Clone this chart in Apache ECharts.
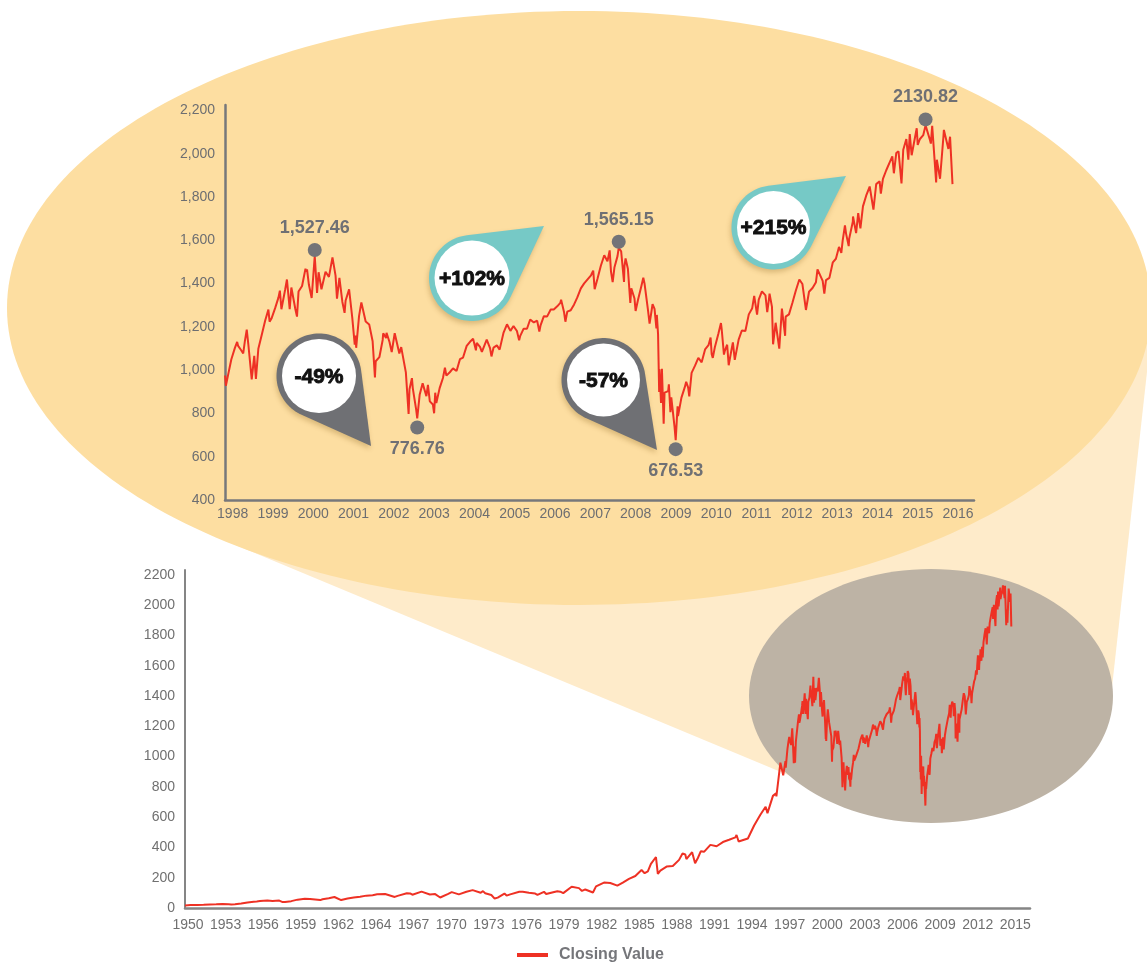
<!DOCTYPE html>
<html><head><meta charset="utf-8">
<script src="https://cdn.jsdelivr.net/npm/echarts@6/dist/echarts.min.js"></script>
<style>html,body{margin:0;padding:0;background:#fff}#c{width:1147px;height:964px}</style>
</head><body><div id="c"></div>
<script>
// ---------- DATA ----------
// S&P 500 closing values, 1998-2016 (zoomed chart)
const topDates = [
'1998-01-02','1998-01-09','1998-01-30','1998-02-27','1998-03-31','1998-04-21','1998-04-30','1998-05-29','1998-06-15','1998-06-30','1998-07-17','1998-07-31','1998-08-31','1998-09-23','1998-10-08','1998-10-30','1998-11-30','1998-12-31',
'1999-01-29','1999-02-09','1999-02-26','1999-03-31','1999-04-30','1999-05-13','1999-05-27','1999-06-30','1999-07-16','1999-08-10','1999-08-25','1999-09-30','1999-10-15','1999-10-29','1999-11-30','1999-12-31',
'2000-01-03','2000-01-14','2000-01-31','2000-02-25','2000-03-24','2000-04-14','2000-04-28','2000-05-24','2000-06-30','2000-07-31','2000-09-01','2000-09-29','2000-10-12','2000-11-03','2000-11-30','2000-12-20','2000-12-29',
'2001-01-30','2001-02-28','2001-03-22','2001-03-30','2001-04-04','2001-04-30','2001-05-21','2001-06-29','2001-07-31','2001-08-31','2001-09-21','2001-09-28','2001-10-31','2001-11-30','2001-12-05','2001-12-31',
'2002-01-04','2002-01-31','2002-02-20','2002-03-19','2002-04-30','2002-05-17','2002-05-31','2002-06-28','2002-07-23','2002-07-31','2002-08-22','2002-08-30','2002-09-30','2002-10-09','2002-10-31','2002-11-27','2002-12-31',
'2003-01-14','2003-01-31','2003-02-28','2003-03-11','2003-03-21','2003-03-31','2003-04-30','2003-05-30','2003-06-17','2003-06-30','2003-07-31','2003-08-29','2003-09-30','2003-10-31','2003-11-28','2003-12-31',
'2004-01-30','2004-02-27','2004-03-24','2004-03-31','2004-04-30','2004-05-17','2004-06-30','2004-07-30','2004-08-12','2004-08-31','2004-09-30','2004-10-25','2004-11-30','2004-12-31',
'2005-01-31','2005-02-28','2005-03-31','2005-04-20','2005-04-29','2005-05-31','2005-06-30','2005-07-29','2005-08-31','2005-09-30','2005-10-20','2005-10-31','2005-11-30','2005-12-30',
'2006-01-31','2006-02-28','2006-03-31','2006-04-28','2006-05-05','2006-05-31','2006-06-13','2006-06-30','2006-07-31','2006-08-31','2006-09-29','2006-10-31','2006-11-30','2006-12-29',
'2007-01-31','2007-02-20','2007-03-05','2007-03-30','2007-04-30','2007-05-31','2007-06-29','2007-07-19','2007-07-31','2007-08-15','2007-08-31','2007-09-28','2007-10-09','2007-10-31','2007-11-26','2007-11-30','2007-12-10','2007-12-31',
'2008-01-22','2008-01-31','2008-02-29','2008-03-10','2008-03-31','2008-04-30','2008-05-19','2008-05-30','2008-06-30','2008-07-15','2008-07-31','2008-08-11','2008-08-29','2008-09-15','2008-09-19','2008-09-30','2008-10-10','2008-10-13','2008-10-27','2008-11-04','2008-11-20','2008-11-28','2008-12-31',
'2009-01-06','2009-01-20','2009-01-28','2009-02-27','2009-03-09','2009-03-26','2009-03-30','2009-04-30','2009-05-29','2009-06-12','2009-06-30','2009-07-10','2009-07-31','2009-08-31','2009-09-30','2009-10-30','2009-11-30','2009-12-31',
'2010-01-19','2010-01-29','2010-02-08','2010-02-26','2010-03-31','2010-04-23','2010-04-30','2010-05-20','2010-05-28','2010-06-18','2010-07-02','2010-07-30','2010-08-09','2010-08-26','2010-09-30','2010-10-29','2010-11-30','2010-12-31',
'2011-01-31','2011-02-18','2011-03-16','2011-03-31','2011-04-29','2011-05-31','2011-06-16','2011-06-30','2011-07-07','2011-07-29','2011-08-08','2011-08-31','2011-09-16','2011-10-03','2011-10-27','2011-11-25','2011-11-30','2011-12-30',
'2012-01-31','2012-02-29','2012-04-02','2012-04-30','2012-06-01','2012-06-29','2012-07-31','2012-08-31','2012-09-14','2012-10-31','2012-11-15','2012-11-30','2012-12-31',
'2013-01-31','2013-02-28','2013-03-28','2013-04-18','2013-04-30','2013-05-21','2013-05-31','2013-06-24','2013-06-28','2013-07-31','2013-08-02','2013-08-30','2013-09-18','2013-09-30','2013-10-08','2013-10-31','2013-11-29','2013-12-31',
'2014-01-15','2014-02-03','2014-02-28','2014-03-31','2014-04-11','2014-04-30','2014-05-30','2014-06-30','2014-07-24','2014-08-07','2014-08-29','2014-09-18','2014-10-15','2014-10-31','2014-11-28','2014-12-16','2014-12-29',
'2015-01-15','2015-01-30','2015-03-02','2015-03-11','2015-03-31','2015-04-30','2015-05-21','2015-06-30','2015-07-08','2015-07-20','2015-08-25','2015-08-31','2015-09-29','2015-10-30','2015-11-03','2015-12-14','2015-12-29','2016-01-20'
];
const topValues = [
975.04,927.69,980.28,1049.34,1101.75,1130.54,1111.75,1090.82,1077.01,1133.84,1186.75,1120.67,957.28,1066.09,959.44,1098.67,1163.63,1229.23,
1279.64,1223.55,1238.33,1286.37,1335.18,1367.56,1281.41,1372.71,1418.78,1281.43,1381.79,1282.71,1247.41,1362.93,1388.91,1469.25,
1455.22,1465.15,1394.46,1333.36,1527.46,1356.56,1452.43,1373.86,1454.60,1430.83,1520.77,1436.51,1329.78,1426.69,1314.95,1264.74,1320.28,
1373.73,1239.94,1117.58,1160.33,1103.25,1249.46,1312.83,1224.42,1211.23,1133.58,965.80,1040.94,1059.78,1139.45,1170.35,1148.08,
1172.51,1130.20,1083.34,1170.29,1076.92,1106.59,1067.14,989.82,797.70,911.62,962.70,916.07,815.28,776.76,885.76,938.87,879.82,
931.66,855.70,841.15,800.73,895.79,848.18,916.92,963.59,1011.66,974.50,990.31,1008.01,995.97,1050.71,1058.20,1111.92,
1131.13,1144.94,1091.33,1126.21,1107.30,1084.10,1140.84,1101.72,1063.23,1104.24,1114.58,1094.81,1173.82,1211.92,
1181.27,1203.60,1180.59,1137.50,1156.85,1191.50,1191.33,1234.18,1220.33,1228.81,1177.80,1207.01,1249.48,1248.29,
1280.08,1280.66,1294.83,1310.61,1325.76,1270.09,1223.69,1270.20,1276.66,1303.82,1335.85,1377.94,1400.63,1418.30,
1438.24,1459.68,1374.12,1420.86,1482.37,1530.62,1503.35,1553.08,1455.27,1406.70,1473.99,1526.75,1565.15,1549.38,1407.22,1481.14,1515.96,1468.36,
1310.50,1378.55,1330.63,1273.37,1322.70,1385.59,1426.63,1400.38,1280.00,1214.91,1267.38,1305.32,1282.83,1192.70,1255.08,1166.36,899.22,1003.35,848.92,1005.75,752.44,896.24,903.25,
934.70,805.22,874.09,735.09,676.53,832.86,787.53,872.81,919.14,946.21,919.32,879.13,987.48,1020.62,1057.08,1036.19,1095.63,1115.10,
1150.23,1073.87,1056.74,1104.49,1169.43,1217.28,1186.69,1071.59,1089.41,1117.51,1022.58,1101.60,1127.79,1047.22,1141.20,1183.26,1180.55,1257.64,
1286.12,1343.01,1256.88,1325.83,1363.61,1345.20,1267.64,1320.64,1353.22,1292.28,1119.46,1218.89,1216.01,1099.23,1284.59,1158.67,1246.96,1257.60,
1312.41,1365.68,1419.04,1397.91,1278.04,1362.16,1379.32,1406.58,1465.77,1412.16,1353.33,1416.18,1426.19,
1498.11,1514.68,1569.19,1541.61,1597.57,1669.16,1630.74,1573.09,1606.28,1685.73,1709.67,1632.97,1725.52,1681.55,1655.45,1756.54,1805.81,1848.36,
1848.38,1741.89,1859.45,1872.34,1815.69,1883.95,1923.57,1960.23,1987.98,1909.57,2003.37,2011.36,1862.49,2018.05,2067.56,1972.74,2090.57,
1992.67,1994.99,2117.39,2040.24,2067.89,2085.51,2130.82,2063.11,2046.68,2128.28,1867.61,1972.18,1884.09,2079.36,2109.79,2021.94,2078.36,1859.33
];
// S&P 500 closing values, 1950-1997 (long history, bottom chart)
const longDates = [
'1950-01-03','1950-06-12','1950-07-13','1950-12-29','1951-06-29','1951-12-31','1952-06-30','1952-12-31','1953-06-30','1953-09-14','1953-12-31',
'1954-06-30','1954-12-31','1955-06-30','1955-09-26','1955-12-30','1956-08-02','1956-12-31','1957-07-15','1957-10-22','1957-12-31',
'1958-06-30','1958-12-31','1959-07-31','1959-12-31','1960-10-25','1960-12-30','1961-06-30','1961-12-12','1962-06-26','1962-12-31',
'1963-06-28','1963-12-31','1964-06-30','1964-12-31','1965-05-13','1965-06-28','1965-12-31','1966-02-09','1966-10-07','1966-12-30',
'1967-09-25','1967-12-29','1968-03-05','1968-11-29','1968-12-31','1969-07-29','1969-12-31','1970-05-26','1970-12-31',
'1971-04-28','1971-11-23','1971-12-31','1972-06-30','1972-12-29','1973-01-11','1973-08-22','1973-10-26','1973-12-31',
'1974-06-28','1974-10-03','1974-12-31','1975-07-15','1975-09-16','1975-12-31','1976-09-21','1976-12-31','1977-06-30','1977-12-30',
'1978-03-06','1978-09-12','1978-11-14','1978-12-29','1979-10-05','1979-11-07','1979-12-31','1980-02-13','1980-03-27','1980-11-28','1980-12-31',
'1981-06-30','1981-09-25','1981-12-31','1982-08-12','1982-11-09','1982-12-31','1983-06-30','1983-12-30','1984-07-24','1984-12-31',
'1985-06-28','1985-12-31','1986-06-30','1986-09-29','1986-12-31','1987-03-31','1987-08-25','1987-10-19','1987-12-04','1987-12-31',
'1988-06-30','1988-12-30','1989-06-30','1989-10-09','1989-12-29','1990-01-30','1990-07-16','1990-10-11','1990-12-31',
'1991-03-28','1991-06-28','1991-12-31','1992-06-30','1992-12-31','1993-06-30','1993-12-31','1994-02-02','1994-04-04','1994-12-30',
'1995-06-30','1995-12-29','1996-05-31','1996-07-24','1996-12-31','1997-03-31','1997-04-11','1997-08-06','1997-10-27','1997-12-31'
];
const longValues = [
16.66,19.40,16.69,20.41,20.96,23.77,24.96,26.57,24.14,22.71,24.81,
29.21,35.98,41.03,42.61,45.48,49.74,46.67,49.13,38.98,39.99,
45.24,55.21,60.51,59.89,52.30,58.11,64.64,72.64,52.32,63.10,
69.37,75.02,81.69,84.75,90.27,81.60,92.43,94.06,73.20,80.33,
97.59,96.47,87.72,108.37,103.86,89.48,92.06,69.29,92.15,
104.77,90.16,102.09,107.14,118.05,120.24,100.53,111.38,97.55,
86.00,62.28,68.56,95.61,82.09,90.19,107.83,107.46,100.48,95.10,
86.90,106.99,92.49,96.11,111.27,99.87,107.94,118.44,98.22,140.52,135.76,
131.21,112.77,122.55,102.42,143.02,140.64,168.11,164.93,147.82,167.24,
191.85,211.28,250.84,229.91,242.17,291.70,336.77,224.84,223.92,247.08,
273.50,277.72,317.98,359.80,353.40,322.98,368.95,295.46,330.22,
375.22,371.16,417.09,408.14,435.71,450.53,466.45,482.00,438.92,459.27,
544.75,615.93,669.12,626.65,740.74,757.12,737.65,960.32,876.99,970.43
];
// Highlighted peaks and troughs
const extremeDates  = ['2000-03-24','2002-10-09','2007-10-09','2009-03-09','2015-05-21'];
const extremeValues = [1527.46, 776.76, 1565.15, 676.53, 2130.82];
const extremeLabels = ['1,527.46','776.76','1,565.15','676.53','2130.82'];
const extremeSide   = ['top','bottom','top','bottom','top'];
// Callout texts
const calloutTexts = ['-49%','+102%','-57%','+215%'];
// Tick labels
const topYTicks = [400,600,800,1000,1200,1400,1600,1800,2000,2200];
const topXTickLabels = ['1998','1999','2000','2001','2002','2003','2004','2005','2006','2007','2008','2009','2010','2011','2012','2013','2014','2015','2016'];
const bottomYTicks = [0,200,400,600,800,1000,1200,1400,1600,1800,2000,2200];
const bottomXTickLabels = ['1950','1953','1956','1959','1962','1964','1967','1970','1973','1976','1979','1982','1985','1988','1991','1994','1997','2000','2003','2006','2009','2012','2015'];
const seriesName = 'Closing Value';

// ---------- HELPERS ----------
function dec(s){
  const p = s.split('-').map(Number);
  const t = Date.UTC(p[0], p[1]-1, p[2]);
  const a = Date.UTC(p[0],0,1), b = Date.UTC(p[0]+1,0,1);
  return p[0] + (t-a)/(b-a);
}
const topData = topDates.map((d,i)=>[dec(d), topValues[i]]);
const longData = longDates.map((d,i)=>[dec(d), longValues[i]]).concat(topData);

// x tick label positions (as laid out in the original figure)
const topXPos = topXTickLabels.map(s => +s + 0.19);
const botXPos = bottomXTickLabels.map((s,k) => 1950.24 + 3.006*k);

const RED = '#EE3124';
const FONT = "Liberation Sans";

function teardrop(cx, cy, r, tx, ty){
  const dx=tx-cx, dy=ty-cy, d=Math.hypot(dx,dy), a=Math.atan2(dy,dx), t=Math.acos(r/d);
  const pts=[];
  const n=72;
  for(let i=0;i<=n;i++){
    const ang = a + t + (2*Math.PI - 2*t)*i/n;
    pts.push([cx + r*Math.cos(ang), cy + r*Math.sin(ang)]);
  }
  pts.push([tx,ty]);
  return pts;
}
const GRAYC = '#6f7074', TEAL = '#76c9c6';
const callouts = [
  {cx:319, cy:376, r:42.5, tx:371, ty:446, color:GRAYC},
  {cx:472, cy:278, r:43,   tx:544, ty:226, color:TEAL},
  {cx:603.5, cy:380, r:42, tx:657, ty:450, color:GRAYC},
  {cx:773.5, cy:227.5, r:42, tx:846, ty:176, color:TEAL}
];
const calloutGraphics = [];
callouts.forEach((c,i)=>{
  calloutGraphics.push({type:'polygon', z:50, silent:true,
    shape:{points:teardrop(c.cx,c.cy,c.r,c.tx,c.ty)},
    style:{fill:c.color, shadowBlur:5, shadowOffsetX:-1, shadowOffsetY:3, shadowColor:'rgba(130,90,20,0.28)'}});
  calloutGraphics.push({type:'circle', z:51, silent:true,
    shape:{cx:c.cx, cy:c.cy, r:c.r-5.5}, style:{fill:'#ffffff'}});
  calloutGraphics.push({type:'text', z:52, silent:true,
    style:{text:calloutTexts[i], x:c.cx, y:c.cy+1, align:'center', verticalAlign:'middle',
      textAlign:'center', textVerticalAlign:'middle',
      font:'bold 21px "Liberation Sans", Arial, sans-serif',
      fill:'#111111', stroke:'#111111', lineWidth:0.9}});
});

const chart = echarts.init(document.getElementById('c'), null, {renderer:'canvas'});
chart.setOption({
  animation:false,
  backgroundColor:'#ffffff',
  graphic:{elements:[
    {type:'polygon', z:-30, silent:true,
      shape:{points:[[578,308],[226,541],[805,782],[1110,705],[1155,300]]},
      style:{fill:'#feebca'}},
    {type:'ellipse', z:-20, silent:true, shape:{cx:579, cy:308, rx:572, ry:297}, style:{fill:'#fddea1'}},
    {type:'ellipse', z:-20, silent:true, shape:{cx:931, cy:696, rx:182, ry:127}, style:{fill:'#bdb3a5'}}
  ].concat(calloutGraphics)},
  legend:{
    data:[seriesName], left:517, top:947, padding:0, icon:'rect', itemWidth:31, itemHeight:4,
    textStyle:{fontFamily:FONT, fontWeight:'bold', fontSize:16, color:'#75767a', padding:[0,0,0,6]}
  },
  grid:[
    {left:225, top:105, width:749, height:395},
    {left:185, top:570, width:845, height:338}
  ],
  xAxis:[
    {type:'value', gridIndex:0, min:1998, max:1998+749/40.3, splitLine:{show:false},
      axisLine:{lineStyle:{color:'#77787b', width:2.5}}, axisTick:{show:false},
      axisLabel:{customValues:topXPos, formatter:v=>String(Math.floor(v)), margin:7,
        color:'#6d6e71', fontSize:14, fontFamily:FONT}},
    {type:'value', gridIndex:1, min:1950, max:1950+845/12.51, splitLine:{show:false},
      axisLine:{lineStyle:{color:'#858585', width:2.5}}, axisTick:{show:false},
      axisLabel:{customValues:botXPos, formatter:v=>bottomXTickLabels[Math.round((v-1950.24)/3.006)]||'',
        margin:10, color:'#707070', fontSize:14, fontFamily:FONT}}
  ],
  yAxis:[
    {type:'value', gridIndex:0, min:400, max:2225, splitLine:{show:false},
      axisLine:{show:true, lineStyle:{color:'#77787b', width:2.5}}, axisTick:{show:false},
      axisLabel:{customValues:topYTicks, formatter:v=>v.toLocaleString('en-US'), margin:10,
        color:'#6d6e71', fontSize:14, fontFamily:FONT}},
    {type:'value', gridIndex:1, min:0, max:2233, splitLine:{show:false},
      axisLine:{show:true, lineStyle:{color:'#858585', width:2}}, axisTick:{show:false},
      axisLabel:{customValues:bottomYTicks, formatter:v=>String(v), margin:10,
        color:'#707070', fontSize:14, fontFamily:FONT}}
  ],
  series:[
    {name:seriesName+' 1998-2016', type:'line', xAxisIndex:0, yAxisIndex:0, data:topData,
      showSymbol:false, symbol:'none', color:RED, lineStyle:{color:RED, width:2}, z:5, silent:true},
    {name:'Highlights', type:'scatter', xAxisIndex:0, yAxisIndex:0, z:6, silent:true,
      symbolSize:14, itemStyle:{color:'#737478', opacity:1},
      label:{show:true, fontFamily:FONT, fontWeight:'bold', fontSize:18, color:'#6f7074', distance:6},
      data:extremeDates.map((d,i)=>({
        value:[dec(d), extremeValues[i]],
        symbolOffset:[0, extremeSide[i]==='top' ? -6 : 9],
        label:{position:extremeSide[i], formatter:extremeLabels[i]}
      }))},
    {name:seriesName, type:'line', xAxisIndex:1, yAxisIndex:1, data:longData,
      showSymbol:false, symbol:'none', color:RED, lineStyle:{color:RED, width:2}, z:5, silent:true}
  ]
});
</script>
</body></html>
